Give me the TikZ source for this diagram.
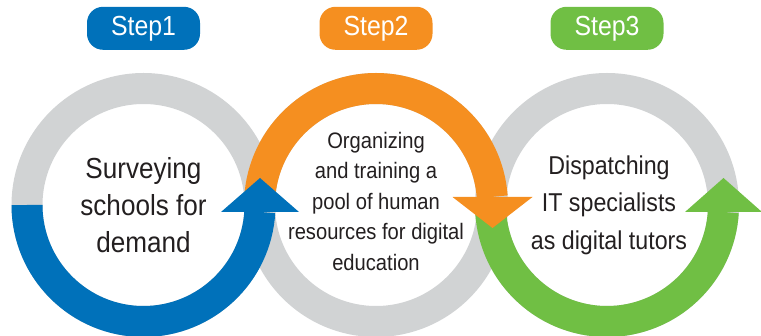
\documentclass[tikz,border=0pt]{standalone}
\usepackage{fontspec}
\setmainfont{Liberation Sans}[FakeStretch=0.9]
\usepackage{tikz}
\usetikzlibrary{positioning}

\definecolor{stepblue}{HTML}{0071BA}
\definecolor{steporange}{HTML}{F58F20}
\definecolor{stepgreen}{HTML}{70BF44}
\definecolor{ringgray}{HTML}{D1D3D4}
\definecolor{textdark}{HTML}{231F20}

\begin{document}
\begin{tikzpicture}[x=1pt,y=1pt]

	\tikzstyle ring=[line width=31pt, draw=ringgray];
	\tikzstyle ring arc=[line width=31pt];
	\tikzstyle step label=[rounded corners=16pt, minimum width=113pt, minimum height=43pt, inner sep=0pt, text=white, font=\fontsize{27.6}{30}\selectfont];
	\tikzstyle step text=[align=center, text=textdark];

	\useasboundingbox (0,0) rectangle (761,335);

	% circle centres
	\coordinate (c1) at (143.5,130);
	\coordinate (c2) at (376,130);
	\coordinate (c3) at (607,130);

	% grey rings
	\draw[ring] (c1) circle (116.5);
	\draw[ring] (c2) circle (116.5);
	\draw[ring] (c3) circle (116.5);

	% coloured parts of the rings
	\draw[ring arc, stepblue] ([shift={(180:116.5)}]c1) arc[start angle=180, end angle=356.6, radius=116.5];
	\draw[ring arc, steporange] ([shift={(180:116.5)}]c2) arc[start angle=180, end angle=4, radius=116.5];
	\draw[ring arc, stepgreen] ([shift={(180:116.5)}]c3) arc[start angle=180, end angle=356.6, radius=116.5];

	% arrow heads
	\fill[stepblue] ([shift={(77.5,-7)}]c1) -- ([shift={(155.5,-7)}]c1) -- ([shift={(116.5,27)}]c1) -- cycle;
	\fill[steporange] ([shift={(76.5,8)}]c2) -- ([shift={(156.5,8)}]c2) -- ([shift={(116.5,-23)}]c2) -- cycle;
	\fill[stepgreen] ([shift={(78,-7)}]c3) -- ([shift={(155,-7)}]c3) -- ([shift={(116.5,27)}]c3) -- cycle;

	% step labels
	\node[step label, fill=stepblue, above=155pt of c1] (step1) {Step1};
	\node[step label, fill=steporange, above=155pt of c2] (step2) {Step2};
	\node[step label, fill=stepgreen, above=155pt of c3] (step3) {Step3};

	% texts
	\node[step text, font=\fontsize{29}{37}\selectfont] (text1) at (c1) {Surveying\\schools for\\demand};
	\node[step text, font=\fontsize{22.4}{30.5}\selectfont] (text2) at ([yshift=4]c2) {Organizing\\and training a\\pool of human\\resources for digital\\education};
	\node[step text, font=\fontsize{25.8}{37.5}\selectfont] (text3) at ([xshift=2]c3) {Dispatching\\IT specialists\\as digital tutors};

\end{tikzpicture}
\end{document}
